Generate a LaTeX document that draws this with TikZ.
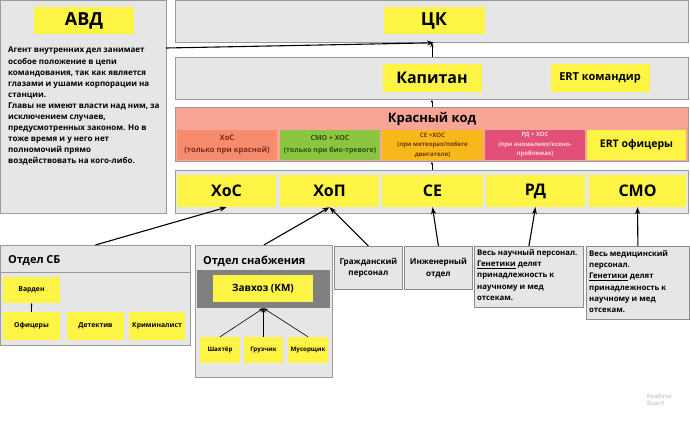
\documentclass[tikz,border=0pt]{standalone}
\usepackage{fontspec}
\setmainfont{Open Sans}
\usetikzlibrary{arrows.meta}
\definecolor{pgray}{HTML}{E6E6E6}
\definecolor{pline}{HTML}{9A9A9A}
\definecolor{yel}{HTML}{FEF445}
\definecolor{redp}{HTML}{F7A696}
\definecolor{c1}{HTML}{F68B6E}\definecolor{t1}{HTML}{7A2B1B}
\definecolor{c2}{HTML}{8CC540}\definecolor{t2}{HTML}{2C4F12}
\definecolor{c3}{HTML}{F8B81C}\definecolor{t3}{HTML}{6B3A00}
\definecolor{c4}{HTML}{E2507A}\definecolor{t4}{HTML}{FFD6DE}
\definecolor{band}{HTML}{808080}
\tikzset{
  panel/.style={draw=pline, fill=pgray, line width=0.8pt, anchor=north west, inner sep=0pt},
  ybox/.style={fill=yel, inner sep=0pt, align=center, font=\bfseries},
  cbox/.style={inner sep=0pt, align=center, font=\bfseries},
  tbox/.style={draw=black!45, fill=pgray, line width=0.8pt, inner sep=0pt, anchor=north west},
  arr/.style={-{Stealth[length=7pt,width=5pt]}, line width=1.1pt},
  sarr/.style={-{Stealth[length=4.5pt,width=3.5pt]}, line width=0.6pt},
}
\newcommand{\fs}[2]{\fontsize{#1}{#2}\selectfont}
\begin{document}
\begin{tikzpicture}[x=1pt,y=-1pt]
\useasboundingbox[fill=white] (0,0) rectangle (690,420);
% AVD
\node[panel, minimum width=166, minimum height=213] (avdp) at (0,0) {};
\node[ybox, minimum width=100, minimum height=27, font=\bfseries\fs{18}{20}] (avd) at (84,21) {АВД};
\node[anchor=north west, inner sep=0pt, align=left, font=\bfseries\fs{8}{11.1}] (avdt) at (8,47) {Агент внутренних дел занимает\\особое положение в цепи\\командования, так как является\\глазами и ушами корпорации на\\станции.\\Главы не имеют власти над ним, за\\исключением случаев,\\предусмотренных законом. Но в\\тоже время и у него нет\\полномочий прямо\\воздействовать на кого-либо.};
% CK
\node[panel, minimum width=513, minimum height=42] (ckp) at (175,0) {};
\node[ybox, minimum width=101, minimum height=27, font=\bfseries\fs{18}{20}] (ck) at (434,21) {ЦК};
% Kapitan
\node[panel, minimum width=513, minimum height=42] (kapp) at (175,57) {};
\node[ybox, minimum width=99, minimum height=28, font=\bfseries\fs{16}{18}] (kap) at (432,78) {Капитан};
\node[ybox, minimum width=99, minimum height=28, font=\bfseries\fs{11}{13}] (ertk) at (600,78) {ERT командир};
% Red code
\node[panel, fill=redp, minimum width=513, minimum height=54] (redcp) at (175,107) {};
\node[cbox, font=\bfseries\fs{13}{15}] (redt) at (432,119) {Красный код};
\node[cbox, fill=c1, text=t1, minimum width=100, minimum height=30, font=\bfseries\fs{7.6}{12}] (r1) at (227,145) {ХоС\\(только при красной)};
\node[cbox, fill=c2, text=t2, minimum width=100, minimum height=30, font=\bfseries\fs{7}{12}] (r2) at (330,145) {СМО + ХОС\\(только при био-тревоге)};
\node[cbox, fill=c3, text=t3, minimum width=101, minimum height=30, font=\bfseries\fs{6.1}{9.5}] (r3) at (432.5,145) {СЕ +ХОС\\(при метеорах/побеге\\двигателя)};
\node[cbox, fill=c4, text=t4, minimum width=100, minimum height=30, font=\bfseries\fs{6}{9.5}] (r4) at (535,145) {РД + ХОС\\(при аномалиях/ксено-\\проблемах)};
\node[ybox, minimum width=99, minimum height=30, font=\bfseries\fs{10.5}{12}] (r5) at (636.5,145) {ERT офицеры};
% Departments
\node[panel, minimum width=513, minimum height=43] (deptp) at (175,170) {};
\node[ybox, minimum width=99, minimum height=32, font=\bfseries\fs{16}{18}] (hos) at (226.5,191) {ХоС};
\node[ybox, minimum width=99, minimum height=32, font=\bfseries\fs{16}{18}] (hop) at (329.5,191) {ХоП};
\node[ybox, minimum width=101, minimum height=32, font=\bfseries\fs{16}{18}] (ce) at (432.5,191) {СЕ};
\node[ybox, minimum width=99, minimum height=32, font=\bfseries\fs{16}{18}] (rd) at (535.5,191) {РД};
\node[ybox, minimum width=97, minimum height=32, font=\bfseries\fs{16}{18}] (smo) at (637.5,191) {СМО};
% Otdel SB
\node[panel, minimum width=190, minimum height=100] (sbp) at (0,245) {};
\draw[pline, line width=0.8pt] (sbp.west |- 0,272) -- (sbp.east |- 0,272);
\node[anchor=west, inner sep=0pt, font=\bfseries\fs{11}{13}] (sbt) at (8,261) {Отдел СБ};
\node[ybox, minimum width=57, minimum height=26, font=\bfseries\fs{6.8}{8}] (vard) at (31.5,290) {Варден};
\node[ybox, minimum width=57, minimum height=28, font=\bfseries\fs{6.8}{8}] (ofic) at (31.5,326) {Офицеры};
\node[ybox, minimum width=57, minimum height=28, font=\bfseries\fs{6.8}{8}] (det) at (95.5,326) {Детектив};
\node[ybox, minimum width=56, minimum height=28, font=\bfseries\fs{6.8}{8}] (krim) at (157,326) {Криминалист};
\draw[-{Stealth[length=2.5pt,width=2pt]}, line width=0.5pt] (ofic.north) -- (vard.south);
% Otdel snabzheniya
\node[panel, minimum width=137, minimum height=132] (snp) at (195,245) {};
\node[anchor=west, inner sep=0pt, font=\bfseries\fs{11}{13}] (snt) at (203,261) {Отдел снабжения};
\node[inner sep=0pt, fill=band, minimum width=133, minimum height=38] (bnd) at (263.5,289) {};
\node[ybox, minimum width=100, minimum height=27, font=\bfseries\fs{10}{12}] (zav) at (263,288.5) {Завхоз (КМ)};
\node[ybox, minimum width=40, minimum height=26, font=\bfseries\fs{6.2}{8}] (sha) at (220,350) {Шахтёр};
\node[ybox, minimum width=39, minimum height=26, font=\bfseries\fs{6.2}{8}] (gru) at (263.5,350) {Грузчик};
\node[ybox, minimum width=40, minimum height=26, font=\bfseries\fs{6.2}{8}] (mus) at (308,350) {Мусорщик};
\draw[sarr] (sha.north) -- (bnd.south);
\draw[sarr] (gru.north) -- (bnd.south);
\draw[sarr] (mus.north) -- (bnd.south);
% text boxes
\node[tbox, minimum width=68, minimum height=43] (gr) at (334,246) {};
\node[cbox, font=\bfseries\fs{8.1}{11.5}] at (gr.center) {Гражданский\\персонал};
\node[tbox, minimum width=68, minimum height=43] (ing) at (404,246) {};
\node[cbox, font=\bfseries\fs{8.1}{11.5}] at (ing.center) {Инженерный\\отдел};
\node[tbox, minimum width=109, minimum height=61] (rdt) at (474,246) {};
\node[anchor=north west, inner sep=0pt, align=left, font=\bfseries\fs{7.8}{11.3}] at (477,249) {Весь научный персонал.\\\underline{Генетики} делят\\принадлежность к\\научному и мед\\отсекам.};
\node[tbox, minimum width=103, minimum height=73] (smot) at (586,246) {};
\node[anchor=north west, inner sep=0pt, align=left, font=\bfseries\fs{7.8}{11.3}] at (589,250) {Весь медицинский\\персонал.\\\underline{Генетики} делят\\принадлежность к\\научному и мед\\отсекам.};
% watermark
\node[anchor=north west, inner sep=0pt, align=left, text=black!30, font=\fs{6}{7}] (wm) at (647,394) {Realtime\\Board};
% arrows
\coordinate (avdout) at (166,48);
\draw[arr] (avdout) -- (ck.south |- ckp.south);
\draw[sarr] (kapp.north) -- (ckp.south);
\draw[-{Stealth[length=3pt,width=2.5pt]}, line width=0.5pt] (redcp.north) -- (kapp.south);
\draw[-{Stealth[length=3pt,width=2.5pt]}, line width=0.5pt] (deptp.north) -- (redcp.south);
\draw[arr] (sbp.north) -- (hos.south);
\draw[arr] (snp.north) -- (hop.south);
\draw[arr] (gr.north) -- (hop.south);
\draw[arr] (ing.north) -- (ce.south);
\draw[arr] (rdt.north) -- (rd.south);
\draw[arr] (smot.north) -- (smo.south);
\end{tikzpicture}
\end{document}
